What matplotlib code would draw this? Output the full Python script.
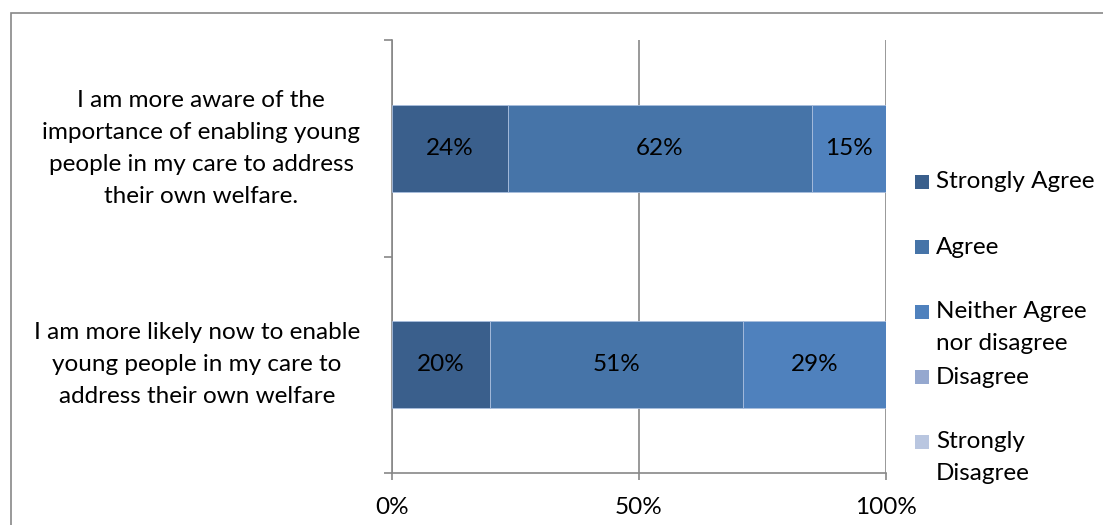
import matplotlib
matplotlib.use("Agg")
import matplotlib.pyplot as plt
from matplotlib.patches import Rectangle
import numpy as np

plt.rcParams["font.family"] = ["Lato", "DejaVu Sans"]

# ---- data ----
categories = [
    "I am more aware of the\nimportance of enabling young\npeople in my care to address\ntheir own welfare.",
    "I am more likely now to enable\nyoung people in my care to\naddress their own welfare",
]
series_names = ["Strongly Agree", "Agree", "Neither Agree\nnor disagree",
                "Disagree", "Strongly\nDisagree"]
strongly_agree = [23.5, 19.8]
agree = [61.5, 51.2]
neither = [15.0, 29.0]
disagree = [0.0, 0.0]
strongly_disagree = [0.0, 0.0]
x_ticks = [0, 50, 100]
x_tick_labels = ["0%", "50%", "100%"]

colors = ["#3A5F8C", "#4674A8", "#4F81BD", "#95A8CF", "#B9C6E0"]
gray = "#878787"
FS = 17.5

W, H = 1103, 525
fig = plt.figure(figsize=(W / 100, H / 100), dpi=100)

# outer chart border (runs off the right and bottom edges)
fig.patches.append(Rectangle((11 / W, -0.1), 1.2, 1.1 - 13 / H,
                             transform=fig.transFigure, fill=False,
                             edgecolor=gray, linewidth=1.2))

ax = fig.add_axes([392 / W, 1 - 473 / H, (886 - 392) / W, (473 - 40) / H])

values = [strongly_agree, agree, neither, disagree, strongly_disagree]
y = np.arange(len(categories))
left = np.zeros(len(categories))
for vals, col in zip(values, colors):
    vals = np.array(vals)
    bars = ax.barh(y, vals, left=left, height=0.4, color=col,
                   edgecolor="#A9BEDD", linewidth=0.6, zorder=3)
    for b, v in zip(bars, vals):
        if v > 0:
            ax.text(b.get_x() + b.get_width() / 2, b.get_y() + b.get_height() / 2,
                    f"{v:.0f}%", ha="center", va="center", fontsize=FS,
                    color="black", zorder=4)
    left += vals

ax.set_xlim(0, 100)
ax.set_ylim(len(categories) - 0.5, -0.5)

ax.set_xticks(x_ticks)
ax.set_xticklabels(x_tick_labels, fontsize=FS)
ax.tick_params(axis="x", direction="out", length=5, width=1.2, color=gray, pad=12)
ax.xaxis.grid(True, color=gray, linewidth=1.2, zorder=0)

# category boundaries as major ticks, labels on minor ticks
ax.set_yticks(np.arange(len(categories) + 1) - 0.5)
ax.set_yticklabels([])
ax.tick_params(axis="y", which="major", direction="out", length=6, width=1.2, color=gray)
ax.set_yticks(y, minor=True)
ax.set_yticklabels(categories, minor=True, fontsize=FS, multialignment="center",
                   linespacing=1.65, va="center")
ax.tick_params(axis="y", which="minor", length=0, pad=23)

for s in ["top", "right"]:
    ax.spines[s].set_visible(False)
for s in ["left", "bottom"]:
    ax.spines[s].set_color(gray)
    ax.spines[s].set_linewidth(1.2)

# legend, laid out as in the source (marker beside first line)
leg_y = [182, 247, 312, 377, 442]
for name, col, yy in zip(series_names, colors, leg_y):
    fig.patches.append(Rectangle((915 / W, 1 - (yy + 7) / H), 14 / W, 14 / H,
                                 transform=fig.transFigure, facecolor=col,
                                 edgecolor="none"))
    for j, line in enumerate(name.split("\n")):
        fig.text(936 / W, 1 - (yy + 31 * j) / H, line, fontsize=FS,
                 ha="left", va="center")

fig.savefig("out.png", dpi=100)
